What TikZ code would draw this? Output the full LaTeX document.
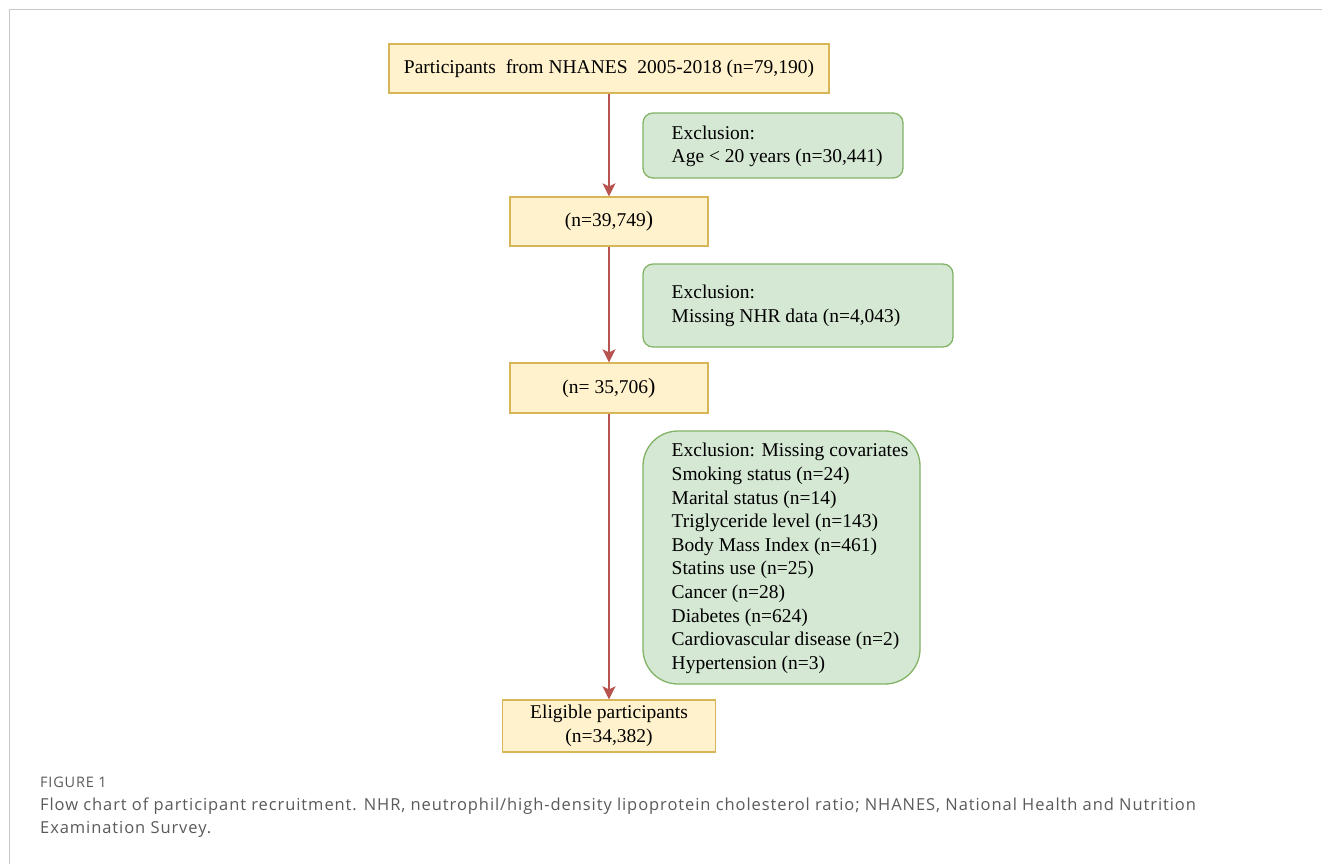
\documentclass[tikz,border=0pt]{standalone}
\usepackage{fontspec}
\setmainfont{Liberation Serif}
\newfontfamily\capfont[LetterSpace=5.6]{Open Sans}
\usetikzlibrary{arrows.meta}
\definecolor{boxfill}{HTML}{FFF2CC}
\definecolor{boxline}{HTML}{D6B656}
\definecolor{exfill}{HTML}{D5E8D4}
\definecolor{exline}{HTML}{82B366}
\definecolor{arrowc}{HTML}{B85450}
\definecolor{framec}{HTML}{C8C8C8}
\definecolor{capc}{HTML}{5A5A5A}
\begin{document}
\begin{tikzpicture}[x=1pt,y=-1pt,
  stepbox/.style={draw=boxline, fill=boxfill, line width=1.3pt, inner sep=0pt, align=center,
    font=\fontsize{19.5}{24}\selectfont},
  exbox/.style={draw=exline, fill=exfill, line width=1.3pt, inner sep=0pt},
  extext/.style={anchor=west, align=left, inner sep=0pt, font=\fontsize{19.5}{23.6}\selectfont},
  conn/.style={draw=arrowc, line width=1.8pt, -{Stealth[length=13pt,width=13pt,inset=3pt]}},
  captext/.style={anchor=west, align=left, inner sep=0pt, text=capc}]
\useasboundingbox (0,0) rectangle (1322,864);
\fill[white] (0,0) rectangle (1322,864);
\draw[framec, line width=1.5pt] (9.5,864) -- (9.5,9.5) -- (1322,9.5);

\node[stepbox, minimum width=440pt, minimum height=49pt] (b1) at (609,68.5)
  {Participants\ \ from NHANES\ \ 2005-2018 (n=79,190)};
\node[stepbox, minimum width=198pt, minimum height=49pt] (b2) at (609,221.5) {(n=39,749\fontsize{22}{24}\selectfont)};
\node[stepbox, minimum width=198pt, minimum height=50pt] (b3) at (609,388) {(n= 35,706\fontsize{22}{24}\selectfont)};
\node[stepbox, minimum width=213pt, minimum height=52pt] (b4) at (609,726)
  {Eligible participants\\(n=34,382)};

\node[exbox, rounded corners=10pt, minimum width=260pt, minimum height=65pt] (e1) at (773,145.5) {};
\node[extext] (e1t) at (671.5,146.5) {Exclusion:\\Age < 20 years (n=30,441)};

\node[exbox, rounded corners=10pt, minimum width=310pt, minimum height=83pt] (e2) at (798,305.5) {};
\node[extext, font=\fontsize{19.5}{24.5}\selectfont] (e2t) at (671.5,306) {Exclusion:\\Missing NHR data (n=4,043)};

\node[exbox, rounded corners=35pt, minimum width=277pt, minimum height=253pt] (e3) at (781.5,557.5) {};
\node[extext] (e3t) at (671.5,558.5) {Exclusion: Missing covariates\\
Smoking status (n=24)\\
Marital status (n=14)\\
Triglyceride level (n=143)\\
Body Mass Index (n=461)\\
Statins use (n=25)\\
Cancer (n=28)\\
Diabetes (n=624)\\
Cardiovascular disease (n=2)\\
Hypertension (n=3)};

\draw[conn] (b1) -- (b2);
\draw[conn] (b2) -- (b3);
\draw[conn] (b3) -- (b4);

\node[captext, font=\capfont\fontsize{14.5}{16}\selectfont] (fig) at (40,782) {FIGURE 1};
\node[captext, anchor=north west, font=\capfont\fontsize{16.5}{23}\selectfont] (cap) at (40,798)
  {Flow chart of participant recruitment. NHR, neutrophil/high-density lipoprotein cholesterol ratio; NHANES, National Health and Nutrition\\
  Examination Survey.};
\end{tikzpicture}
\end{document}
